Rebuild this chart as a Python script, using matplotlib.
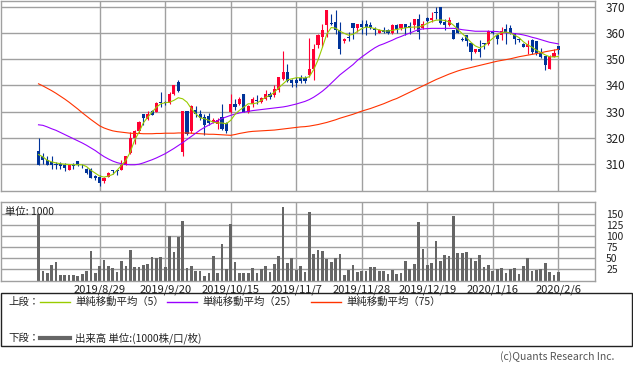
import matplotlib
matplotlib.use("Agg")
import matplotlib.pyplot as plt
from matplotlib.patches import Rectangle
from matplotlib.lines import Line2D

plt.rcParams['font.family'] = ['Noto Sans CJK JP', 'DejaVu Sans']

# price data (per trading day, left to right)
opens = [314.9, 313.2, 311.7, 310.8, 310.2, 310.2, 309.8, 307.9, 309.8, 311.1,
         309.5, 308.3, 308.3, 305.5, 305.1, 303.5, 305.1, 307.8, 307.8, 307.9,
         309.8, 314.2, 319.9, 322.8, 329.0, 327.3, 330.1, 329.9, 333.5, 333.4,
         333.3, 336.8, 341.3, 314.8, 330.1, 322.6, 330.7, 329.0, 328.0, 328.2,
         326.0, 325.2, 328.0, 325.7, 329.8, 333.0, 333.0, 336.8, 329.8, 333.0,
         334.5, 333.6, 334.9, 336.8, 336.2, 338.1, 342.5, 345.0, 341.9, 342.0,
         342.9, 342.9, 343.8, 346.3, 355.2, 358.6, 362.8, 363.8, 364.1, 360.9,
         356.8, 358.5, 363.8, 361.9, 363.2, 363.2, 363.0, 361.3, 360.0, 360.9,
         361.1, 360.0, 362.8, 361.9, 363.2, 362.5, 362.8, 365.1, 361.9, 365.7,
         364.7, 368.1, 370.0, 364.1, 362.8, 360.9, 363.7, 357.5, 359.0, 356.1,
         352.6, 353.9, 355.9, 355.8, 360.3, 359.0, 359.0, 361.5, 361.9, 360.0,
         357.5, 355.8, 354.6, 357.2, 357.0, 352.3, 351.0, 346.3, 350.8, 354.8]
highs = [319.8, 314.2, 313.0, 313.1, 310.8, 311.0, 310.5, 309.8, 310.4, 311.3,
         310.1, 308.6, 308.6, 306.0, 305.8, 305.0, 307.0, 307.8, 307.8, 311.7,
         313.2, 322.2, 323.0, 326.5, 329.0, 330.1, 330.5, 333.6, 337.5, 334.0,
         337.5, 340.3, 341.9, 330.1, 330.1, 332.5, 332.0, 330.5, 329.0, 329.5,
         327.5, 327.5, 333.0, 326.0, 336.8, 335.0, 335.5, 336.8, 332.5, 335.5,
         336.2, 335.5, 338.1, 337.5, 340.0, 343.1, 353.0, 348.2, 342.5, 343.0,
         343.8, 343.5, 358.1, 355.8, 359.6, 363.4, 368.8, 367.0, 368.5, 364.0,
         358.0, 360.3, 363.8, 363.2, 364.7, 364.7, 364.0, 362.2, 361.5, 362.2,
         361.5, 363.4, 363.2, 363.4, 363.2, 364.0, 365.1, 367.0, 364.5, 366.0,
         367.9, 369.8, 370.0, 365.3, 366.0, 360.9, 364.0, 358.6, 359.0, 356.1,
         354.0, 357.3, 356.0, 360.9, 361.0, 359.6, 362.2, 363.2, 362.8, 360.0,
         358.0, 356.0, 357.3, 357.5, 357.0, 354.3, 351.0, 351.5, 353.9, 354.8]
lows = [309.8, 310.2, 309.8, 308.0, 308.0, 308.0, 307.5, 307.9, 308.3, 309.3,
        308.5, 306.4, 304.7, 304.0, 301.9, 303.0, 305.0, 306.3, 306.0, 307.7,
        309.8, 313.7, 317.8, 321.8, 324.8, 327.0, 328.6, 329.8, 331.8, 332.5,
        333.0, 336.5, 337.6, 313.0, 321.0, 322.0, 328.0, 327.0, 321.0, 325.0,
        325.5, 323.5, 323.0, 322.0, 329.5, 330.5, 332.5, 329.8, 329.5, 331.7,
        333.0, 333.3, 334.6, 335.0, 335.5, 337.5, 342.0, 341.2, 339.5, 339.5,
        341.0, 341.0, 343.0, 342.0, 354.3, 354.6, 358.4, 362.8, 359.6, 352.0,
        356.0, 357.0, 357.7, 360.3, 359.6, 359.0, 361.5, 359.0, 360.0, 360.0,
        359.5, 359.6, 360.0, 360.9, 359.0, 359.6, 361.5, 357.7, 361.5, 364.0,
        364.0, 365.3, 363.5, 360.9, 362.5, 357.7, 359.8, 356.8, 354.9, 349.7,
        352.5, 350.8, 353.9, 355.5, 359.5, 355.8, 357.3, 355.8, 359.6, 355.8,
        356.5, 354.5, 351.8, 351.9, 351.5, 350.5, 345.7, 346.3, 350.8, 351.8]
closes = [309.8, 311.5, 309.8, 309.8, 309.6, 309.5, 308.5, 309.8, 309.2, 309.6,
          309.2, 306.6, 304.7, 304.8, 302.8, 304.7, 306.8, 307.6, 307.6, 309.8,
          313.2, 319.9, 322.8, 326.2, 327.7, 329.2, 328.8, 333.4, 333.3, 333.2,
          336.8, 340.0, 337.8, 330.1, 321.5, 332.0, 329.2, 327.7, 325.1, 325.7,
          326.8, 326.9, 323.5, 322.6, 333.0, 331.7, 334.9, 329.8, 332.0, 334.9,
          334.2, 335.2, 336.8, 335.5, 338.7, 343.1, 345.0, 341.6, 341.0, 341.0,
          341.6, 341.6, 346.1, 353.9, 359.0, 361.1, 368.8, 363.5, 360.9, 353.9,
          357.7, 358.2, 361.8, 363.2, 362.2, 362.2, 361.9, 361.0, 361.1, 360.5,
          360.0, 362.8, 361.5, 363.2, 361.9, 362.0, 365.1, 360.3, 363.2, 364.4,
          365.7, 367.5, 363.7, 362.8, 364.9, 357.7, 360.0, 357.3, 356.8, 352.6,
          353.9, 352.6, 355.8, 360.6, 360.1, 357.7, 360.6, 360.0, 360.0, 357.7,
          357.2, 354.6, 355.8, 352.6, 352.3, 350.8, 347.6, 351.0, 352.3, 353.5]

# moving averages
ma5 = [313.7, 312.8, 311.5, 310.9, 310.5, 310.2, 310.0, 309.9, 309.8, 309.8,
       309.8, 309.1, 307.7, 306.6, 305.5, 305.1, 305.5, 306.1, 307.7, 309.6,
       311.5, 314.6, 319.1, 322.2, 325.7, 327.9, 329.8, 331.7, 333.0, 333.4,
       333.6, 334.3, 335.3, 334.9, 333.6, 331.1, 329.2, 327.7, 327.3, 326.7,
       326.0, 325.7, 325.7, 325.4, 326.7, 329.0, 330.5, 331.7, 333.0, 333.0,
       333.3, 334.3, 335.5, 336.2, 337.4, 339.1, 340.6, 342.1, 342.5, 342.9,
       342.9, 342.8, 343.3, 346.0, 349.7, 354.5, 359.5, 362.0, 361.8, 360.6,
       359.8, 359.1, 359.4, 360.5, 361.6, 362.2, 362.0, 361.6, 361.1, 360.7,
       360.7, 360.9, 361.3, 361.6, 361.9, 362.1, 362.2, 362.2, 362.7, 363.6,
       364.3, 364.8, 364.9, 364.7, 364.2, 362.9, 361.3, 359.7, 358.2, 356.4,
       355.0, 354.3, 355.0, 356.5, 357.9, 359.3, 360.1, 360.3, 359.9, 359.1,
       358.2, 356.6, 355.4, 354.5, 353.4, 352.5, 351.6, 350.9, 350.8, 351.0]
ma25 = [325.0, 324.8, 324.2, 323.5, 322.9, 322.1, 321.3, 320.5, 319.7, 318.9,
        318.1, 317.2, 316.2, 315.2, 314.0, 312.9, 312.0, 311.2, 310.6, 310.2,
        309.9, 309.8, 309.8, 310.0, 310.5, 311.1, 311.7, 312.4, 313.2, 314.0,
        315.0, 316.0, 317.1, 318.2, 319.4, 320.6, 321.8, 323.0, 324.0, 324.9,
        325.8, 326.6, 327.4, 328.0, 328.6, 329.1, 329.5, 329.8, 330.1, 330.4,
        330.6, 330.8, 331.0, 331.2, 331.4, 331.6, 331.8, 332.1, 332.5, 332.9,
        333.4, 333.9, 334.6, 335.5, 336.6, 337.8, 339.2, 340.8, 342.4, 344.0,
        345.3, 346.6, 347.9, 349.5, 350.8, 352.0, 353.2, 354.3, 355.2, 355.8,
        356.5, 357.2, 358.0, 358.6, 359.3, 359.9, 360.6, 361.2, 361.5, 361.6,
        361.7, 361.7, 361.7, 361.7, 361.7, 361.7, 361.5, 361.2, 361.0, 360.8,
        360.6, 360.6, 360.6, 360.6, 360.5, 360.5, 360.2, 360.0, 359.9, 359.7,
        359.5, 359.2, 358.8, 358.3, 357.9, 357.4, 356.9, 356.4, 356.1, 355.8]
ma75 = [340.6, 339.8, 338.9, 338.0, 337.0, 335.9, 334.8, 333.6, 332.3, 331.0,
        329.6, 328.3, 327.0, 325.8, 324.6, 323.8, 323.2, 322.7, 322.4, 322.2,
        322.0, 321.8, 321.7, 321.7, 321.6, 321.6, 321.6, 321.7, 321.7, 321.8,
        321.8, 321.8, 321.9, 321.9, 321.9, 321.8, 321.7, 321.6, 321.5, 321.4,
        321.4, 321.3, 321.2, 321.1, 321.0, 321.3, 321.7, 322.0, 322.3, 322.5,
        322.6, 322.7, 322.8, 322.9, 323.0, 323.2, 323.4, 323.6, 323.8, 324.0,
        324.2, 324.3, 324.5, 324.8, 325.1, 325.5, 325.9, 326.4, 326.9, 327.5,
        328.0, 328.5, 329.0, 329.6, 330.2, 330.7, 331.2, 331.8, 332.4, 333.0,
        333.7, 334.4, 335.0, 335.8, 336.6, 337.4, 338.2, 339.0, 339.8, 340.6,
        341.4, 342.2, 342.9, 343.6, 344.3, 344.9, 345.5, 346.0, 346.4, 346.8,
        347.2, 347.6, 348.0, 348.4, 348.8, 349.2, 349.5, 349.8, 350.1, 350.5,
        350.9, 351.2, 351.5, 351.8, 352.1, 352.4, 352.8, 353.1, 353.4, 353.7]

# volume (1000 shares)
volume = [150, 21, 17, 34, 41, 12, 13, 13, 12, 10,
          14, 21, 66, 17, 32, 46, 32, 29, 19, 43,
          32, 68, 30, 30, 34, 37, 52, 51, 52, 30,
          100, 64, 97, 133, 27, 32, 21, 21, 10, 16,
          55, 16, 82, 25, 127, 41, 16, 16, 16, 28,
          16, 25, 32, 19, 37, 55, 165, 39, 50, 23,
          32, 19, 154, 59, 68, 66, 48, 42, 50, 59,
          12, 24, 34, 19, 22, 22, 31, 31, 21, 21,
          14, 23, 14, 16, 43, 25, 37, 131, 70, 34,
          39, 88, 43, 57, 55, 145, 61, 61, 64, 50,
          43, 57, 30, 34, 21, 25, 28, 16, 25, 28,
          14, 32, 50, 21, 24, 25, 39, 19, 12, 19]

date_pos = [14, 29, 44, 59, 74, 89, 104, 119]
date_labels = ["2019/8/29", "2019/9/20", "2019/10/15", "2019/11/7",
               "2019/11/28", "2019/12/19", "2020/1/16", "2020/2/6"]
price_ticks = [310, 320, 330, 340, 350, 360, 370]
vol_ticks = [25, 50, 75, 100, 125, 150]

UP = "#ff0033"
DOWN = "#003399"
GRID = "#a0a0a0"
W, H = 633, 371

fig = plt.figure(figsize=(W / 100, H / 100), dpi=100)

def px_axes(x0, y0, x1, y1):
    return fig.add_axes([x0 / W, 1 - y1 / H, (x1 - x0) / W, (y1 - y0) / H])

xlim = (-8.7, 127.4)
idx = list(range(len(closes)))

# ---- price panel
ax = px_axes(0.5, 0.5, 595, 190.5)
ax.set_xlim(*xlim)
ax.set_ylim(300.0, 372.3)
for p in price_ticks:
    ax.axhline(p, color=GRID, lw=1.0, zorder=0)
for d in date_pos:
    ax.axvline(d, color=GRID, lw=1.0, zorder=0)

colors = [UP if c >= o else DOWN for o, c in zip(opens, closes)]
ax.vlines(idx, lows, highs, colors=colors, lw=0.8, zorder=2)
bottoms = [min(o, c) for o, c in zip(opens, closes)]
heights = [max(abs(c - o), 0.3) for o, c in zip(opens, closes)]
ax.bar(idx, heights, bottom=bottoms, width=0.72, color=colors, lw=0, zorder=3)

ax.plot(idx, ma75, color="#ff3300", lw=0.8, zorder=4)
ax.plot(idx, ma25, color="#9900ff", lw=0.8, zorder=4)
ax.plot(idx, ma5, color="#99cc00", lw=0.8, zorder=4)

ax.set_xticks([])
ax.set_yticks(price_ticks)
ax.yaxis.tick_right()
ax.tick_params(axis="y", length=0, pad=8, labelsize=8.5, labelcolor="#222222")
for s in ax.spines.values():
    s.set_color(GRID)
    s.set_linewidth(1.0)

# ---- volume panel
vx = px_axes(0.5, 201.5, 595, 280.5)
vx.set_xlim(*xlim)
vx.set_ylim(0, 177)
for v in vol_ticks:
    vx.axhline(v, color=GRID, lw=1.0, zorder=0)
for d in date_pos:
    vx.axvline(d, color=GRID, lw=1.0, zorder=0)
vx.bar(idx, volume, width=0.62, color="#666666", lw=0, zorder=2)
vx.set_yticks(vol_ticks)
vx.yaxis.tick_right()
vx.tick_params(axis="y", length=0, pad=8, labelsize=7.5, labelcolor="#222222")
vx.set_xticks(date_pos)
vx.set_xticklabels(date_labels)
vx.tick_params(axis="x", length=0, pad=3, labelsize=8, labelcolor="#222222")
for s in vx.spines.values():
    s.set_color(GRID)
    s.set_linewidth(1.0)
vx.text(0.008, 0.93, "単位: 1000", transform=vx.transAxes, fontsize=7.5,
        va="top", ha="left", color="#222222")

# ---- legend box
lg = px_axes(0, 0, W, H)
lg.set_xlim(0, W)
lg.set_ylim(H, 0)
lg.axis("off")
lg.add_patch(Rectangle((0.5, 293), 631.5, 53, fill=False, ec="#222222", lw=1.0))
fs = 7.5
lg.text(8, 302, "上段：", fontsize=fs, va="center", color="#222222")
lg.text(8, 338, "下段：", fontsize=fs, va="center", color="#222222")
items = [(40, "#99cc00", "単純移動平均（5）"),
         (167, "#9900ff", "単純移動平均（25）"),
         (311, "#ff3300", "単純移動平均（75）")]
for x0, col, lab in items:
    lg.add_line(Line2D([x0, x0 + 30], [302, 302], color=col, lw=1.0))
    lg.text(x0 + 35, 302, lab, fontsize=fs, va="center", color="#222222")
lg.add_line(Line2D([40, 70], [338, 338], color="#666666", lw=3.0))
lg.text(75, 338, "出来高 単位:(1000株/口/枚)", fontsize=fs, va="center", color="#222222")
lg.text(614, 357, "(c)Quants Research Inc.", fontsize=7.5, va="center",
        ha="right", color="#555555")

fig.savefig("out.png", dpi=100)
